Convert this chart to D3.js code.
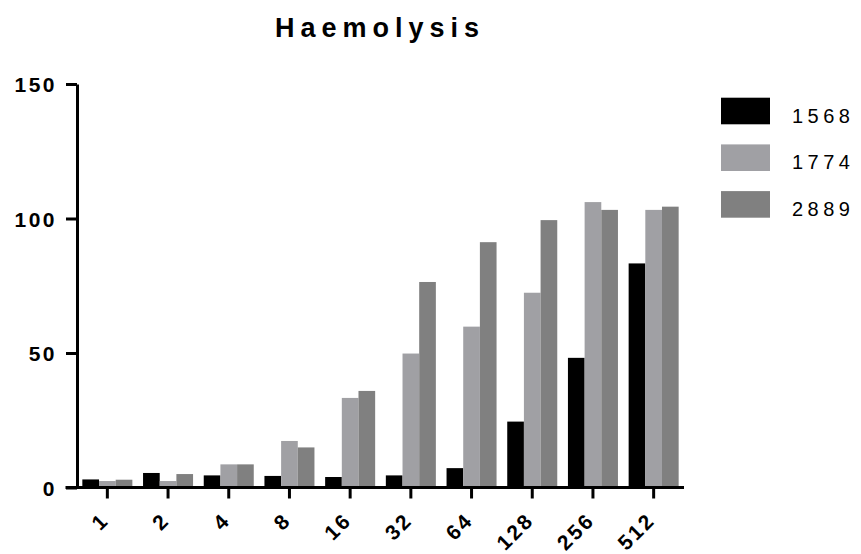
<!DOCTYPE html>
<html>
<head>
<meta charset="utf-8">
<script src="https://cdn.jsdelivr.net/npm/d3@7/dist/d3.min.js"></script>
<style>
  html, body { margin: 0; padding: 0; background: #fff; }
  svg { display: block; }
  text { font-family: "Liberation Sans", Arial, Helvetica, sans-serif; fill: #000; }
</style>
</head>
<body>
<svg id="chart" width="861" height="554"></svg>
<script>
// Dilutions on the x axis
const dilutions = ["1", "2", "4", "8", "16", "32", "64", "128", "256", "512"];
// Strains shown as series
const strains = ["1568", "1774", "2889"];
// Haemolysis per strain at each dilution
const values1568 = [3.0, 5.4, 4.5, 4.3, 3.9, 4.5, 7.2, 24.5, 48.2, 83.3];
const values1774 = [2.4, 2.4, 8.6, 17.3, 33.3, 49.8, 59.8, 72.4, 106.1, 103.2];
const values2889 = [2.9, 5.0, 8.6, 14.9, 35.9, 76.4, 91.2, 99.4, 103.2, 104.4];
const yTicks = [0, 50, 100, 150];
const title = "Haemolysis";

const seriesValues = { "1568": values1568, "1774": values1774, "2889": values2889 };
const colors = { "1568": "#000000", "1774": "#a0a0a4", "2889": "#808080" };

const svg = d3.select("#chart");

const x = d3.scaleBand()
  .domain(dilutions)
  .range([77, 684])
  .paddingInner(0.176)
  .paddingOuter(0.088);

const xInner = d3.scaleBand()
  .domain(strains)
  .range([0, x.bandwidth()])
  .padding(0);

const y = d3.scaleLinear()
  .domain([0, 150])
  .range([487.5, 84]);

// Bars
const groups = svg.append("g")
  .selectAll("g")
  .data(dilutions)
  .join("g")
  .attr("transform", d => `translate(${x(d)},0)`);

groups.selectAll("rect")
  .data((d, i) => strains.map(s => ({ strain: s, value: seriesValues[s][i] })))
  .join("rect")
  .attr("x", d => xInner(d.strain))
  .attr("width", xInner.bandwidth())
  .attr("y", d => y(d.value))
  .attr("height", d => y(0) - y(d.value))
  .attr("fill", d => colors[d.strain]);

// Y axis
const yAxis = svg.append("g")
  .attr("transform", "translate(77,0)")
  .call(d3.axisLeft(y).tickValues(yTicks).tickSizeInner(11).tickSizeOuter(0).tickPadding(9));
yAxis.select(".domain").attr("stroke", "#000").attr("stroke-width", 3);
yAxis.selectAll(".tick line").attr("stroke", "#000").attr("stroke-width", 3);
yAxis.selectAll(".tick text")
  .attr("font-family", null)
  .attr("dy", "0.36em")
  .style("font-size", "21px")
  .style("font-weight", "bold")
  .style("letter-spacing", "2.5px");

// X axis
const xAxis = svg.append("g")
  .attr("transform", `translate(0,${y(0)})`)
  .call(d3.axisBottom(x).tickSizeInner(11).tickSizeOuter(0).tickPadding(0));
xAxis.select(".domain").attr("stroke", "#000").attr("stroke-width", 3)
  .attr("d", "M65.5,0H684");
xAxis.selectAll(".tick line").attr("stroke", "#000").attr("stroke-width", 3);
xAxis.selectAll(".tick text")
  .attr("font-family", null)
  .style("font-size", "21px")
  .style("font-weight", "bold")
  .style("letter-spacing", "2.5px")
  .attr("text-anchor", "end")
  .attr("y", 0)
  .attr("dy", 0)
  .attr("transform", "translate(3,34) rotate(-45)");

// Title
svg.append("text")
  .attr("x", 380)
  .attr("y", 37)
  .attr("text-anchor", "middle")
  .style("font-size", "27px")
  .style("font-weight", "bold")
  .style("letter-spacing", "6px")
  .text(title);

// Legend
const legend = svg.append("g")
  .selectAll("g")
  .data(strains)
  .join("g")
  .attr("transform", (d, i) => `translate(721,${97.7 + i * 46.7})`);

legend.append("rect")
  .attr("width", 49)
  .attr("height", 26.6)
  .attr("fill", d => colors[d]);

legend.append("text")
  .attr("x", 71)
  .attr("y", 25)
  .style("font-size", "20px")
  .style("letter-spacing", "4.5px")
  .text(d => d);
</script>
</body>
</html>
